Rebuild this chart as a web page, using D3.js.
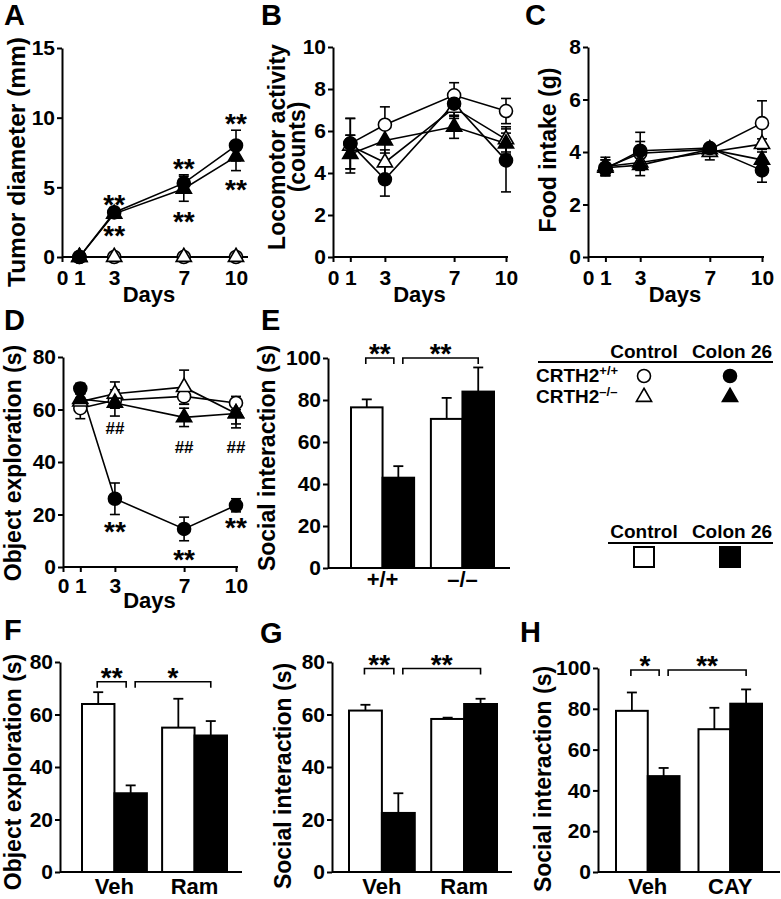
<!DOCTYPE html>
<html>
<head>
<meta charset="utf-8">
<script src="https://cdn.jsdelivr.net/npm/d3@7"></script>
<style>
  body { margin: 0; background: #fff; }
  svg text { font-family: "Liberation Sans", Arial, sans-serif; font-weight: bold; fill: #000; }
</style>
</head>
<body>
<svg id="fig" width="781" height="899"></svg>
<script>
// ---- data ----
const days = [1, 3, 7, 10];
const dayTicks = [0, 1, 3, 7, 10];

// A: tumor diameter (mm)
const tumorWtCtl = [0, 0, 0, 0];
const tumorWtCtlErr = [0, 0, 0, 0];
const tumorKoCtl = [0, 0, 0, 0];
const tumorKoCtlErr = [0, 0, 0, 0];
const tumorKoC26 = [0, 3.1, 4.9, 7.2];
const tumorKoC26Err = [0, 0.3, 0.9, 1.0];
const tumorWtC26 = [0, 3.2, 5.3, 8.0];
const tumorWtC26Err = [0, 0.35, 0.6, 1.1];

// B: locomotor activity (counts)
const locoWtCtl = [5.4, 6.3, 7.7, 6.95];
const locoWtCtlErr = [1.2, 0.85, 0.6, 0.6];
const locoKoCtl = [5.3, 4.5, 7.1, 5.6];
const locoKoCtlErr = [0.5, 0.6, 0.5, 0.6];
const locoKoC26 = [4.9, 5.55, 6.2, 5.4];
const locoKoC26Err = [0.9, 0.6, 0.55, 0.5];
const locoWtC26 = [5.4, 3.7, 7.3, 4.6];
const locoWtC26Err = [1.2, 0.8, 0.6, 1.5];

// C: food intake (g)
const foodWtCtl = [3.4, 3.95, 4.1, 5.1];
const foodWtCtlErr = [0.3, 0.45, 0.15, 0.85];
const foodKoCtl = [3.45, 3.6, 4.0, 4.3];
const foodKoCtlErr = [0.35, 0.3, 0.3, 0.2];
const foodKoC26 = [3.4, 3.5, 4.1, 3.7];
const foodKoC26Err = [0.3, 0.4, 0.1, 0.3];
const foodWtC26 = [3.35, 4.05, 4.15, 3.3];
const foodWtC26Err = [0.2, 0.7, 0.1, 0.45];

// D: object exploration (s)
const objWtCtl = [60.5, 63.5, 65, 62.5];
const objWtCtlErr = [4, 3, 3, 2.5];
const objKoCtl = [63, 66, 68.5, 58.5];
const objKoCtlErr = [3, 4.5, 6.5, 4];
const objKoC26 = [64, 62.5, 57, 58.5];
const objKoC26Err = [2, 5, 3.5, 5.5];
const objWtC26 = [68, 26, 14.5, 23.5];
const objWtC26Err = [2, 6, 4.5, 2.5];

// E-H: bar charts
const genotypes = ["+/+", "–/–"];
const socialCtl = [76.5, 71];
const socialCtlErr = [3.8, 10];
const socialC26 = [43, 84];
const socialC26Err = [5.5, 11.5];

const ramGroups = ["Veh", "Ram"];
const ramObjCtl = [64, 55];
const ramObjCtlErr = [4.5, 11];
const ramObjC26 = [30, 52];
const ramObjC26Err = [3, 5.5];

const ramSocialCtl = [61.5, 58.3];
const ramSocialCtlErr = [2.2, 0.5];
const ramSocialC26 = [22.5, 64];
const ramSocialC26Err = [7.5, 2];

const cayGroups = ["Veh", "CAY"];
const caySocialCtl = [79, 70];
const caySocialCtlErr = [9, 10.5];
const caySocialC26 = [47, 82.5];
const caySocialC26Err = [4, 7];

// ---- drawing ----
const svg = d3.select("#fig");
const black = "#000";
const white = "#fff";
const markerStyle = {
  wtCtl: { shape: "circle", fill: white },
  koCtl: { shape: "triangle", fill: white },
  koC26: { shape: "triangle", fill: black },
  wtC26: { shape: "circle", fill: black }
};
const circleSym = d3.symbol(d3.symbolCircle, Math.PI * 6.5 * 6.5);
const triSym = d3.symbol(d3.symbolTriangle, 100);

function styleAxis(sel, size) {
  sel.select(".domain").attr("stroke-width", 2);
  sel.selectAll(".tick line").attr("stroke-width", 2);
  sel.selectAll(".tick text")
    .style("font-size", size + "px")
    .attr("fill", black);
}

function drawLetter(t, x, y) {
  svg.append("text").attr("x", x).attr("y", y).style("font-size", "29px").text(t);
}

function drawTitle(lines, xs, y, size) {
  lines.forEach((l, i) => {
    svg.append("text")
      .attr("transform", `translate(${xs[i]},${y}) rotate(-90)`)
      .attr("text-anchor", "middle")
      .style("font-size", size + "px")
      .text(l);
  });
}

function linePanel(o) {
  let g = svg.append("g");
  let x = d3.scaleLinear().domain([0, 10]).range([o.x0, o.x1]);
  let y = d3.scaleLinear().domain([0, o.yMax]).range([o.y0, o.y1]);

  // y axis
  let ya = g.append("g")
    .attr("transform", `translate(${o.x0},0)`)
    .call(d3.axisLeft(y).tickValues(o.yTicks).tickSize(5).tickSizeOuter(0).tickPadding(2));
  styleAxis(ya, 21);
  // x axis
  let xa = g.append("g")
    .attr("transform", `translate(0,${o.y0})`)
    .call(d3.axisBottom(x).tickValues(dayTicks).tickSize(5).tickSizeOuter(0).tickPadding(o.tickPad));
  xa.select(".domain").remove();
  styleAxis(xa, 21);
  g.append("line")
    .attr("x1", o.x0).attr("x2", o.xEnd)
    .attr("y1", o.y0).attr("y2", o.y0)
    .attr("stroke", black).attr("stroke-width", 2);

  let line = d3.line().x((d, i) => x(days[i])).y(d => y(d));
  o.series.forEach(s => {
    g.append("path").datum(s.v)
      .attr("fill", "none").attr("stroke", black).attr("stroke-width", 1.6)
      .attr("d", line);
  });
  o.series.forEach(s => {
    s.v.forEach((v, i) => {
      if (!s.e[i]) return;
      let cx = x(days[i]);
      let yt = y(v + s.e[i]), yb = y(Math.max(0, v - s.e[i]));
      g.append("line").attr("x1", cx).attr("x2", cx).attr("y1", yt).attr("y2", yb)
        .attr("stroke", black).attr("stroke-width", 1.6);
      [yt, yb].forEach(yy => {
        g.append("line").attr("x1", cx - 5).attr("x2", cx + 5).attr("y1", yy).attr("y2", yy)
          .attr("stroke", black).attr("stroke-width", 1.6);
      });
    });
  });
  o.series.forEach(s => {
    let st = markerStyle[s.key];
    g.selectAll(null).data(s.v).enter()
      .append("path")
      .attr("d", st.shape === "circle" ? circleSym : triSym)
      .attr("transform", (d, i) => `translate(${x(days[i])},${y(d)})`)
      .attr("fill", st.fill).attr("stroke", black).attr("stroke-width", 1.6);
  });

  (o.notes || []).forEach(n => {
    let fs = n.text === "##" ? 17 : 28;
    let off = n.text === "##" ? 6 : 15.5;
    g.append("text")
      .attr("x", x(n.day)).attr("y", y(n.at) + off)
      .attr("text-anchor", "middle")
      .style("font-size", fs + "px")
      .text(n.text);
  });

  g.append("text")
    .attr("x", (o.x0 + o.x1) / 2).attr("y", o.daysY)
    .attr("text-anchor", "middle")
    .style("font-size", "22px")
    .text("Days");

  drawTitle(o.title, o.titleX, o.titleY, o.titleSize);
  drawLetter(o.letter, o.lx, o.ly);
}

function barPanel(o) {
  let g = svg.append("g");
  let x = d3.scaleBand().domain(o.groups).range([o.bx0, o.bx1]).paddingInner(o.pad);
  let inner = d3.scaleBand().domain(["ctl", "c26"]).range([0, x.bandwidth()]);
  let y = d3.scaleLinear().domain([0, o.yMax]).range([o.y0, o.y1]);

  let ya = g.append("g")
    .attr("transform", `translate(${o.ax},0)`)
    .call(d3.axisLeft(y).ticks(5).tickSize(5).tickSizeOuter(0).tickPadding(2));
  styleAxis(ya, 21);

  let rows = [];
  o.groups.forEach((grp, i) => {
    rows.push({ grp: grp, k: "ctl", v: o.ctl[i], e: o.ctlErr[i], fill: white });
    rows.push({ grp: grp, k: "c26", v: o.c26[i], e: o.c26Err[i], fill: black });
  });
  let cx = d => x(d.grp) + inner(d.k) + inner.bandwidth() / 2;

  // error bars (up only)
  rows.forEach(d => {
    g.append("line").attr("x1", cx(d)).attr("x2", cx(d))
      .attr("y1", y(d.v)).attr("y2", y(d.v + d.e))
      .attr("stroke", black).attr("stroke-width", 1.8);
    g.append("line").attr("x1", cx(d) - 5).attr("x2", cx(d) + 5)
      .attr("y1", y(d.v + d.e)).attr("y2", y(d.v + d.e))
      .attr("stroke", black).attr("stroke-width", 1.8);
  });
  g.selectAll(".bar").data(rows).enter()
    .append("rect")
    .attr("class", "bar")
    .attr("x", d => x(d.grp) + inner(d.k))
    .attr("y", d => y(d.v))
    .attr("width", inner.bandwidth())
    .attr("height", d => y(0) - y(d.v))
    .attr("fill", d => d.fill)
    .attr("stroke", black).attr("stroke-width", 2);

  g.append("line")
    .attr("x1", o.ax).attr("x2", o.axEnd)
    .attr("y1", o.y0).attr("y2", o.y0)
    .attr("stroke", black).attr("stroke-width", 2);

  // group labels
  g.selectAll(".grp").data(o.groups).enter()
    .append("text")
    .attr("x", d => x(d) + x.bandwidth() / 2)
    .attr("y", o.y0 + o.labelDy)
    .attr("text-anchor", "middle")
    .style("font-size", "22px")
    .text(d => d);

  // significance brackets
  let c0 = cx(rows[0]), c1 = cx(rows[1]), c3 = cx(rows[3]);
  let by = y(o.bracketAt);
  [[c0 - 1, c1 - 4.5], [c1 + 4.5, c3]].forEach((b, i) => {
    g.append("path")
      .attr("d", `M${b[0]},${by + 6}V${by}H${b[1]}V${by + 6}`)
      .attr("fill", "none").attr("stroke", black).attr("stroke-width", 1.6);
    g.append("text")
      .attr("x", (b[0] + b[1]) / 2).attr("y", by + 5)
      .attr("text-anchor", "middle")
      .style("font-size", "28px")
      .text(o.stars[i]);
  });

  drawTitle([o.title], [o.titleX], o.titleY, 23);
  drawLetter(o.letter, o.lx, o.ly);
}

linePanel({
  letter: "A", lx: 4, ly: 25,
  x0: 62, x1: 236, xEnd: 248, y0: 257, y1: 48, yMax: 15, yTicks: [0, 5, 10, 15],
  tickPad: 8, daysY: 302,
  title: ["Tumor diameter (mm)"], titleX: [25], titleY: 162, titleSize: 24.5,
  series: [
    { key: "wtCtl", v: tumorWtCtl, e: tumorWtCtlErr },
    { key: "koCtl", v: tumorKoCtl, e: tumorKoCtlErr },
    { key: "koC26", v: tumorKoC26, e: tumorKoC26Err },
    { key: "wtC26", v: tumorWtC26, e: tumorWtC26Err }
  ],
  notes: [
    { day: 3, at: 4.2, text: "**" }, { day: 3, at: 1.95, text: "**" },
    { day: 7, at: 6.75, text: "**" }, { day: 7, at: 3.0, text: "**" },
    { day: 10, at: 10.0, text: "**" }, { day: 10, at: 5.3, text: "**" }
  ]
});

linePanel({
  letter: "B", lx: 261, ly: 25,
  x0: 333, x1: 506, xEnd: 508, y0: 257, y1: 47, yMax: 10, yTicks: [0, 2, 4, 6, 8, 10],
  tickPad: 8, daysY: 302,
  title: ["Locomotor activity", "(counts)"], titleX: [285, 305], titleY: 147, titleSize: 23,
  series: [
    { key: "wtCtl", v: locoWtCtl, e: locoWtCtlErr },
    { key: "koCtl", v: locoKoCtl, e: locoKoCtlErr },
    { key: "koC26", v: locoKoC26, e: locoKoC26Err },
    { key: "wtC26", v: locoWtC26, e: locoWtC26Err }
  ]
});

linePanel({
  letter: "C", lx: 525, ly: 25,
  x0: 588, x1: 762, xEnd: 764, y0: 257, y1: 47, yMax: 8, yTicks: [0, 2, 4, 6, 8],
  tickPad: 8, daysY: 302,
  title: ["Food intake (g)"], titleX: [556], titleY: 150, titleSize: 23,
  series: [
    { key: "wtCtl", v: foodWtCtl, e: foodWtCtlErr },
    { key: "koCtl", v: foodKoCtl, e: foodKoCtlErr },
    { key: "koC26", v: foodKoC26, e: foodKoC26Err },
    { key: "wtC26", v: foodWtC26, e: foodWtC26Err }
  ]
});

linePanel({
  letter: "D", lx: 4, ly: 330,
  x0: 63, x1: 236, xEnd: 238, y0: 567, y1: 357, yMax: 80, yTicks: [0, 20, 40, 60, 80],
  tickPad: 6, daysY: 608,
  title: ["Object exploration (s)"], titleX: [21], titleY: 463, titleSize: 23,
  series: [
    { key: "wtCtl", v: objWtCtl, e: objWtCtlErr },
    { key: "koCtl", v: objKoCtl, e: objKoCtlErr },
    { key: "koC26", v: objKoC26, e: objKoC26Err },
    { key: "wtC26", v: objWtC26, e: objWtC26Err }
  ],
  notes: [
    { day: 3, at: 52.8, text: "##" }, { day: 7, at: 45.8, text: "##" }, { day: 10, at: 45.8, text: "##" },
    { day: 3, at: 16, text: "**" }, { day: 7, at: 5.2, text: "**" }, { day: 10, at: 17.3, text: "**" }
  ]
});

barPanel({
  letter: "E", lx: 261, ly: 330,
  ax: 328, axEnd: 510, bx0: 351, bx1: 494, pad: 0.21,
  y0: 568, y1: 358, yMax: 100, labelDy: 19,
  groups: genotypes, ctl: socialCtl, ctlErr: socialCtlErr, c26: socialC26, c26Err: socialC26Err,
  bracketAt: 100, stars: ["**", "**"],
  title: "Social interaction (s)", titleX: 275, titleY: 458
});

barPanel({
  letter: "F", lx: 4, ly: 640,
  ax: 60, axEnd: 242, bx0: 82, bx1: 227, pad: 0.19,
  y0: 872, y1: 662, yMax: 80, labelDy: 22,
  groups: ramGroups, ctl: ramObjCtl, ctlErr: ramObjCtlErr, c26: ramObjC26, c26Err: ramObjC26Err,
  bracketAt: 72.5, stars: ["**", "*"],
  title: "Object exploration (s)", titleX: 21, titleY: 772
});

barPanel({
  letter: "G", lx: 260, ly: 643,
  ax: 332, axEnd: 512, bx0: 349, bx1: 497, pad: 0.2,
  y0: 872, y1: 662, yMax: 80, labelDy: 22,
  groups: ramGroups, ctl: ramSocialCtl, ctlErr: ramSocialCtlErr, c26: ramSocialC26, c26Err: ramSocialC26Err,
  bracketAt: 77.5, stars: ["**", "**"],
  title: "Social interaction (s)", titleX: 291, titleY: 776
});

barPanel({
  letter: "H", lx: 520, ly: 642,
  ax: 598, axEnd: 780, bx0: 616, bx1: 762, pad: 0.23,
  y0: 872, y1: 668, yMax: 100, labelDy: 22,
  groups: cayGroups, ctl: caySocialCtl, ctlErr: caySocialCtlErr, c26: caySocialC26, c26Err: caySocialC26Err,
  bracketAt: 99, stars: ["*", "**"],
  title: "Social interaction (s)", titleX: 551, titleY: 779
});

// ---- legends ----
let legend = svg.append("g");
const colCtl = 644, colC26 = 730;
[[358, 362, 538], [538, 543, 608]].forEach(r => {
  legend.append("text").attr("x", colCtl).attr("y", r[0]).attr("text-anchor", "middle")
    .style("font-size", "19px").text("Control");
  legend.append("text").attr("x", colC26 + 2).attr("y", r[0]).attr("text-anchor", "middle")
    .style("font-size", "19px").text("Colon 26");
  legend.append("line").attr("x1", r[2]).attr("x2", 773).attr("y1", r[1]).attr("y2", r[1])
    .attr("stroke", black).attr("stroke-width", 2);
});
[["+/+", 382, "circle"], ["–/–", 403, "triangle"]].forEach(r => {
  let t = legend.append("text").attr("x", 536).attr("y", r[1]).style("font-size", "19px");
  t.append("tspan").text("CRTH2");
  t.append("tspan").attr("dy", -7).style("font-size", "13px").text(r[0]);
  let sym = r[2] === "circle" ? circleSym : triSym;
  [[colCtl, white], [colC26, black]].forEach(c => {
    legend.append("path").attr("d", sym)
      .attr("transform", `translate(${c[0]},${r[1] - 6})`)
      .attr("fill", c[1]).attr("stroke", black).attr("stroke-width", 1.6);
  });
});
[[colCtl, white], [colC26, black]].forEach(c => {
  legend.append("rect").attr("x", c[0] - 10).attr("y", 547).attr("width", 20).attr("height", 20)
    .attr("fill", c[1]).attr("stroke", black).attr("stroke-width", 2);
});
</script>
</body>
</html>
